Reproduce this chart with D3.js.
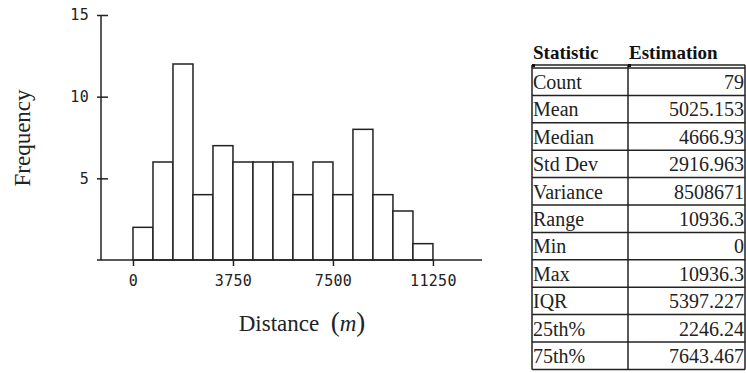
<!DOCTYPE html>
<html>
<head>
<meta charset="utf-8">
<script src="https://cdn.jsdelivr.net/npm/d3@7"></script>
<style>
  body { margin: 0; background: #fff; }
</style>
</head>
<body>
<div id="chart"></div>
<script>
const binStart = [0, 750, 1500, 2250, 3000, 3750, 4500, 5250, 6000, 6750, 7500, 8250, 9000, 9750, 10500];
const binWidth = 750;
const counts = [2, 6, 12, 4, 7, 6, 6, 6, 4, 6, 4, 8, 4, 3, 1];
const xTicks = [0, 3750, 7500, 11250];
const yTicks = [5, 10, 15];

const statNames = ["Count", "Mean", "Median", "Std Dev", "Variance", "Range", "Min", "Max", "IQR", "25th%", "75th%"];
const statValues = ["79", "5025.153", "4666.93", "2916.963", "8508671", "10936.3", "0", "10936.3", "5397.227", "2246.24", "7643.467"];

const width = 746, height = 373;
const svg = d3.select("#chart").append("svg")
  .attr("width", width).attr("height", height);

const x = d3.scaleLinear().domain([-1350, 13090]).range([97, 482]);
const y = d3.scaleLinear().domain([0, 15]).range([260, 15]);

// bars
const bins = binStart.map((b, i) => ({ x0: b, x1: b + binWidth, n: counts[i] }));
svg.append("g").selectAll("rect")
  .data(bins)
  .join("rect")
  .attr("x", d => x(d.x0))
  .attr("y", d => y(d.n))
  .attr("width", d => x(d.x1) - x(d.x0))
  .attr("height", d => y(0) - y(d.n))
  .attr("fill", "#fff")
  .attr("stroke", "#222")
  .attr("stroke-width", 1.5);

const monoFont = "'DejaVu Sans Mono', monospace";

// x axis
const xAxis = svg.append("g").attr("transform", `translate(0,${y(0)})`)
  .call(d3.axisBottom(x).tickValues(xTicks).tickSize(6).tickPadding(9).tickFormat(d3.format("d")));
xAxis.select(".domain").attr("d", `M${x.range()[0]},0H${x.range()[1]}`).attr("stroke", "#222").attr("stroke-width", 1.5);
xAxis.selectAll(".tick line").attr("stroke", "#222").attr("stroke-width", 1.5);
xAxis.selectAll(".tick text")
  .style("font-family", monoFont).style("font-size", "15px")
  .attr("letter-spacing", 0.3).attr("fill", "#222");

// y axis
const yAxis = svg.append("g").attr("transform", `translate(101,0)`)
  .call(d3.axisLeft(y).tickValues(yTicks).tickSize(4).tickPadding(8).tickFormat(d3.format("d")));
yAxis.select(".domain").attr("d", `M0,${y(15)}V${y(0)}`).attr("stroke", "#222").attr("stroke-width", 1.5);
yAxis.selectAll(".tick line").attr("x1", 7).attr("x2", -4).attr("stroke", "#222").attr("stroke-width", 1.5);
yAxis.selectAll(".tick text")
  .style("font-family", monoFont).style("font-size", "15px")
  .attr("letter-spacing", 0.3).attr("fill", "#222");

// axis titles
const serif = "'Liberation Serif', 'Times New Roman', serif";
svg.append("text")
  .attr("transform", "translate(30,138) rotate(-90)")
  .attr("text-anchor", "middle")
  .style("font-family", serif)
  .style("font-size", "23px").attr("fill", "#222")
  .text("Frequency");

const xt = svg.append("text")
  .attr("x", 302).attr("y", 331)
  .attr("text-anchor", "middle")
  .style("font-family", serif)
  .style("font-size", "23px").attr("fill", "#222");
xt.append("tspan").text("Distance\u2002");
xt.append("tspan").style("font-size", "27px").text("(");
xt.append("tspan").style("font-style", "italic").text("m");
xt.append("tspan").style("font-size", "27px").text(")");

// statistics table
const tLeft = 532, tMid = 628, tRight = 745, tTop = 68, rowH = 27.4;
const table = svg.append("g");

table.append("text").attr("x", 533).attr("y", 59)
  .style("font-family", serif).style("font-size", "19px").style("font-weight", "bold")
  .attr("fill", "#111").text("Statistic");
table.append("text").attr("x", 629).attr("y", 59)
  .style("font-family", serif).style("font-size", "19px").style("font-weight", "bold")
  .attr("fill", "#111").text("Estimation");

const rows = statNames.map((n, i) => ({ name: n, value: statValues[i], i }));

table.selectAll("line.h")
  .data(d3.range(rows.length + 1))
  .join("line")
  .attr("class", "h")
  .attr("x1", tLeft).attr("x2", tRight)
  .attr("y1", i => tTop + i * rowH).attr("y2", i => tTop + i * rowH)
  .attr("stroke", "#222")
  .attr("stroke-width", 1.5);
table.append("line")
  .attr("x1", tLeft).attr("x2", tRight)
  .attr("y1", tTop - 3).attr("y2", tTop - 3)
  .attr("stroke", "#222").attr("stroke-width", 1.5);
[tLeft, tMid, tRight].forEach(cx => {
  table.append("line")
    .attr("x1", cx).attr("x2", cx)
    .attr("y1", tTop - 3).attr("y2", tTop + rows.length * rowH)
    .attr("stroke", "#222").attr("stroke-width", 1.5);
});
[tLeft, tMid].forEach(cx => {
  table.append("rect").attr("x", cx).attr("y", tTop - 4).attr("width", 3).attr("height", 3).attr("fill", "#111");
});

table.selectAll("text.name")
  .data(rows)
  .join("text")
  .attr("class", "name")
  .attr("x", tLeft + 1)
  .attr("y", d => tTop + d.i * rowH + 21)
  .style("font-family", serif).style("font-size", "20px")
  .attr("fill", "#222")
  .text(d => d.name);

table.selectAll("text.val")
  .data(rows)
  .join("text")
  .attr("class", "val")
  .attr("x", tRight - 1)
  .attr("y", d => tTop + d.i * rowH + 21)
  .attr("text-anchor", "end")
  .style("font-family", serif).style("font-size", "20px")
  .attr("fill", "#222")
  .text(d => d.value);
</script>
</body>
</html>
